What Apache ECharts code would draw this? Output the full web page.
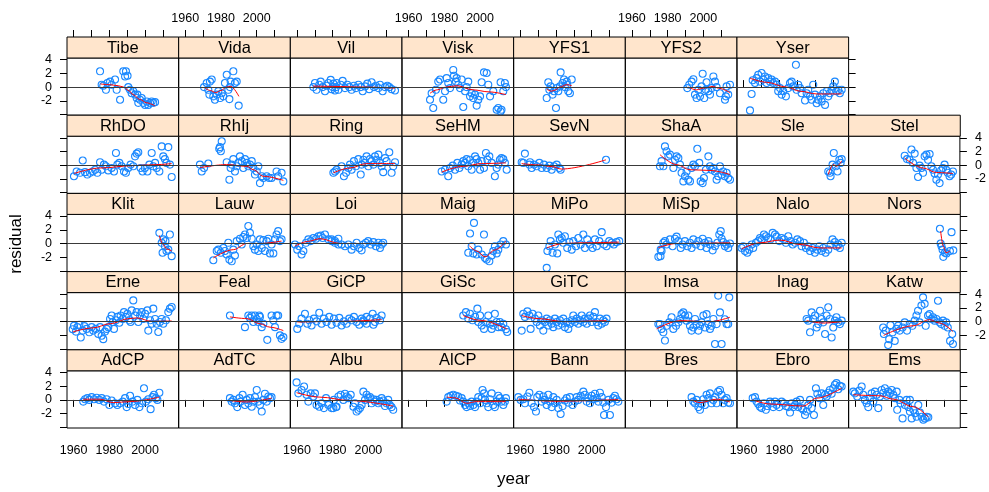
<!DOCTYPE html>
<html><head><meta charset="utf-8">
<script src="https://cdn.jsdelivr.net/npm/echarts@6/dist/echarts.min.js"></script>
<style>html,body{margin:0;padding:0;background:#fff}#c{width:989px;height:492px}</style>
</head><body><div id="c"></div>
<script>
// panel order: lattice order (bottom-left to top-right)
const sites = ['AdCP','AdTC','Albu','AlCP','Bann','Bres','Ebro','Ems','Erne','Feal','GiCP','GiSc','GiTC','Imsa','Inag','Katw','Klit','Lauw','Loi','Maig','MiPo','MiSp','Nalo','Nors','RhDO','RhIj','Ring','SeHM','SevN','ShaA','Sle','Stel','Tibe','Vida','Vil','Visk','YFS1','YFS2','Yser'];
const xTicks = [1960,1970,1980,1990,2000,2010];
const xLabels = [1960,1980,2000];
const yTicks = [-4,-2,0,2,4];
const yLabels = [-2,0,2,4];
const xRange = [1956.3, 2018.8];
const yRange = [-4.1, 4.24];
const xTitle = 'year';
const yTitle = 'residual';

const Tibe_pts = [[1974.8,2.3],[1975.7,0.35],[1976.6,0.2],[1978.1,-0.4],[1978.9,0.6],[1980.4,0.8],[1981.3,0.35],[1983.2,1.1],[1984.1,-0.4],[1986,-1.85],[1987.8,2.3],[1988.8,1.55],[1989.3,2.3],[1990.2,1.65],[1990.6,0],[1991.6,-0.4],[1992.5,-0.9],[1993.4,-0.6],[1994.4,-1.1],[1995.3,-1.6],[1995.7,-1.1],[1996.2,-2.3],[1997.2,-1.85],[1998.1,-1.6],[1999,-2.3],[2000,-2.6],[2000.9,-2.1],[2001.8,-2.6],[2002.8,-2.3],[2003.7,-2.1],[2004.6,-2.3],[2005.6,-2.2]];
const Tibe_fit = [[1975,0.45],[1980,0.35],[1985,0.2],[1988,0],[1990.5,-0.45],[1993.4,-1.1],[1997,-1.8],[2001,-2.3],[2005.6,-2.75]];
const Vida_pts = [[1970.5,0],[1972,0.6],[1972.9,-0.4],[1973.5,-1.1],[1973.8,0.8],[1974.8,1.1],[1975.7,-1.35],[1976.6,-1.85],[1977.6,-1.1],[1978.5,-0.6],[1979.5,-1.6],[1980.4,-0.9],[1981.3,-1.35],[1982.2,0.6],[1983.2,1.8],[1984.1,-0.4],[1984.7,-1.75],[1985,0],[1985.4,0.8],[1986.9,2.3],[1987.8,0.6],[1988.8,0.8],[1989.9,-2.7]];
const Vida_fit = [[1970.5,0],[1974,-0.5],[1977,-0.8],[1980,-0.5],[1983,0],[1985.5,0.1],[1990,-1.35]];
const Vil_pts = [[1969.2,0],[1970.1,0.6],[1971,-0.4],[1972.5,0.35],[1973.3,0.8],[1974.4,0],[1975.7,-0.6],[1976.6,0.2],[1977.6,0.6],[1978.9,1.05],[1979.4,-0.3],[1980,0],[1980.4,0.5],[1981.3,-0.5],[1981.9,0],[1982.2,0.6],[1983.2,-0.4],[1984.5,0.35],[1985.6,0.9],[1986.9,-0.15],[1988.2,0.35],[1989.3,0],[1990.6,-0.4],[1991.9,0.2],[1993,-0.15],[1994.4,0.35],[1995.7,0],[1996.8,-0.6],[1998.1,0.1],[1999.4,0.5],[2000.5,-0.3],[2001.8,0.7],[2003.1,0],[2004.2,0.2],[2005.6,-0.15],[2006.5,0.35],[2008,-0.6],[2009.3,0],[2010.6,0.2],[2011.7,0],[2013,-0.3],[2014.9,-0.5]];
const Vil_fit = [[1969,0.15],[1980,0.1],[1997,0],[2014.9,-0.15]];
const Visk_pts = [[1972,-1.85],[1972.9,-0.9],[1973.8,-3.05],[1975.3,-0.4],[1976.6,0.8],[1977.6,1.1],[1979.4,-1.85],[1980.4,-0.6],[1981.3,1.3],[1982.2,0.6],[1983.2,-0.15],[1985,2.5],[1985.4,1.65],[1986.5,0.8],[1986.9,1.3],[1987.8,0.35],[1988.8,-0.15],[1989.7,1.1],[1990.6,-2.9],[1991.6,-0.6],[1992.5,0],[1993.4,0.8],[1994.4,-1.35],[1995.3,-0.9],[1996.2,-1.6],[1997.2,-1.1],[1998.1,-2.7],[1999,-1.85],[2000,-1.35],[2000.9,0.7],[2002.2,2.15],[2003.7,2.05],[2004.6,0.35],[2005.6,-1.35],[2007.4,-0.6],[2009.3,-3.3],[2010.2,-3.05],[2011.5,-3.55],[2011.5,0.7],[2012,-3.3],[2013,-0.6],[2013.9,0.6],[2014.5,0]];
const Visk_fit = [[1972,-0.9],[1976,-0.4],[1981,0],[1987,0.2],[1996,-0.4],[2005,-0.7],[2014.5,-1.1]];
const YFS1_pts = [[1974.8,-1.6],[1975.7,0.7],[1976.3,-0.4],[1977,0.1],[1978.1,-1.1],[1978.9,-0.6],[1980,-3.05],[1980.4,-0.15],[1981.3,-0.6],[1982.2,0.1],[1982.6,2.15],[1983.7,0.6],[1984.5,1.1],[1985,0],[1986,0.8],[1986.3,0.35],[1986.9,-0.6],[1987.8,-0.9],[1988.8,1.1]];
const YFS1_fit = [[1974.8,-0.3],[1977.5,-0.6],[1980,-0.4],[1982,0],[1986,0.35],[1988.8,0.2]];
const YFS2_pts = [[1991,-0.15],[1992.1,0.35],[1993.4,0.8],[1994.4,1.15],[1995.3,-1.1],[1996.2,-1.6],[1997.2,-0.4],[1998.1,-1.35],[1999,0.1],[1999.6,1.95],[2000.5,-1.6],[2001.4,-0.4],[2001.8,0.7],[2002.8,-0.6],[2003.7,-1.1],[2004.6,-0.15],[2005.6,1.55],[2006.5,0.8],[2007.4,0],[2009.3,-0.9],[2012.1,-1.85],[2012.6,-1.35],[2013,0.1],[2013.9,-1.1],[2014.9,0.35]];
const YFS2_fit = [[1991.5,0],[1996.2,-0.4],[2000,-0.15],[2005.6,0.1],[2008.3,-0.15],[2014.9,-0.8]];
const Yser_pts = [[1963.6,-3.4],[1964.5,-1],[1965.1,1],[1966.4,0.6],[1967.3,1.3],[1968.2,1.8],[1969.2,0.8],[1970.1,2.05],[1971,1.1],[1972,1.55],[1972.9,0.6],[1973.8,1.3],[1974.8,0.8],[1975.7,1.1],[1976.6,0.6],[1977.6,0.8],[1978.5,0.35],[1979.4,-0.6],[1980.4,-0.15],[1981.3,-1.1],[1982.2,-0.6],[1983.7,-1.35],[1985,-0.15],[1986,0.6],[1986.9,0.8],[1987.8,0.1],[1989.3,3.25],[1989.7,-0.4],[1990.6,0.35],[1991.6,-0.15],[1992.5,-0.9],[1994.4,-1.95],[1995.3,-0.9],[1996.2,-0.4],[1997.2,-1.35],[1998.1,-1.85],[1999,0.35],[2000,-1.1],[2000.9,-2.35],[2001.8,-1.85],[2002.8,-1.35],[2003.7,-2.1],[2004.6,-0.9],[2005.6,-2.6],[2006.5,-0.6],[2007.4,-1.35],[2008.3,-0.9],[2009.3,-0.4],[2010.2,0.1],[2011.1,0.8],[2012,-0.6],[2013,-0.4],[2013.9,-0.9],[2014.9,-0.4]];
const Yser_fit = [[1963.6,1.3],[1972.9,0.7],[1984,0],[1991.6,-0.6],[2000.9,-1],[2014.9,-1]];

const RhDO_pts = [[1960.2,-1.6],[1961.7,-0.9],[1963.6,-1.1],[1965.1,0.7],[1966.4,-1],[1967.7,-1.35],[1969.2,-1.1],[1970.7,-0.9],[1972,-0.65],[1973.3,-1.1],[1974.8,0.45],[1975.7,-0.65],[1977,0.1],[1978.1,-0.15],[1979.4,-0.75],[1981.3,-0.4],[1982.6,-0.9],[1983.7,1.8],[1984.5,0.1],[1985.6,0.35],[1986.9,-0.15],[1988.2,-0.9],[1989.3,-1.1],[1990.6,-0.4],[1991.9,0.1],[1993.4,-0.15],[1994.4,1.3],[1995.3,1.7],[1996.2,1.9],[1997.5,-0.4],[1998.6,-0.9],[1999.9,-0.4],[2001.3,-0.9],[2002.4,0.1],[2003.7,1.8],[2004.6,-0.15],[2005.6,0.35],[2006.5,-0.4],[2008,-0.9],[2009.3,2.75],[2010.2,1.3],[2011.1,0.9],[2012,0.35],[2013,2.65],[2013.9,0.1],[2014.9,-1.7]];
const RhDO_fit = [[1960.2,-1.2],[1974.8,-0.4],[1993.4,-0.05],[2006.5,0.1],[2014.9,0.25]];
const RhIj_pts = [[1968.2,0.1],[1969.2,-0.9],[1970.5,-0.4],[1972.9,0.25],[1979,2.4],[1979.4,2.65],[1979.9,2.05],[1980.4,3.5],[1983.2,0.45],[1984.7,-2.1],[1985.4,-0.4],[1986,0.1],[1986.9,0.9],[1987.8,-0.9],[1988.8,-0.15],[1989.7,0.35],[1990.6,1.3],[1991.6,0.6],[1992.5,-0.4],[1993.4,0.9],[1994.4,0.35],[1995.3,-0.15],[1996.2,0.1],[1997.2,0.6],[1998.1,-0.4],[1999,-1.35],[2000,-0.9],[2000.9,-0.15],[2001.8,-2.6],[2002.8,-1.6],[2003.7,-1.85],[2005.6,-1.6],[2007,-1.85],[2008.3,-1.85],[2011.1,-0.9],[2012,-1.6],[2013.9,-1.1],[2014.9,-2.35]];
const RhIj_fit = [[1968.2,-0.35],[1983.2,0.1],[1994.4,-0.15],[1998.1,-0.65],[2003.7,-1.6],[2014.9,-2.2]];
const Ring_pts = [[1980.4,-1.1],[1981.3,-0.9],[1982.2,-0.65],[1985,-0.15],[1986.3,-1.6],[1987.5,-1.1],[1988.8,-0.4],[1989.7,0.1],[1990.6,-0.65],[1991.9,0.6],[1993,-0.15],[1994.4,0.9],[1995.7,-1.35],[1996.2,0.1],[1997.2,0.8],[1998.1,0.35],[1999,1.3],[2000,-0.15],[2000.9,0.9],[2001.8,0.6],[2002.8,0.1],[2003.7,1.3],[2004.6,0.8],[2005.6,1.55],[2006.5,0.35],[2007.4,-0.15],[2008.3,-1],[2009.3,1.05],[2010.2,0.6],[2011.7,1.9],[2013,-1.1],[2013.9,-0.15],[2014.9,0.45]];
const Ring_fit = [[1980.4,-1.1],[1989.7,-0.4],[1999,0.25],[2014.9,0.25]];
const SeHM_pts = [[1978.5,-0.9],[1980.4,-0.65],[1982.2,-1.6],[1983.2,-0.4],[1984.7,-0.05],[1986,-0.65],[1987.3,0.35],[1988.4,-0.4],[1989.7,0.1],[1990.6,0.6],[1991.6,0.35],[1992.5,0.9],[1993.4,-0.15],[1994.4,0.8],[1995.3,-0.65],[1996.2,0.35],[1997.2,1.3],[1998.1,0.9],[1999,0.35],[2000,-0.65],[2000.9,0.6],[2002.2,-0.4],[2003.3,1.8],[2004.1,0.8],[2005.2,1.3],[2006.5,0.35],[2008.3,-1.6],[2009.3,-0.4],[2010.2,0.1],[2011.1,0.8],[2012,1.05],[2013,0.9],[2013.9,0.35],[2014.9,-0.65]];
const SeHM_fit = [[1978.5,-1],[1990.6,-0.15],[2000.9,0.25],[2014.5,0.35]];
const SevN_pts = [[1960.8,0.45],[1961.7,0.35],[1962.6,1.7],[1965.1,0.1],[1965.5,0.45],[1966.4,-0.4],[1967.7,0.1],[1969.2,-0.15],[1970.7,0.35],[1972,-0.4],[1973.3,0.1],[1974.8,-0.4],[1976.3,-0.05],[1977.6,-0.65],[1978.9,-0.15],[1980.4,0.1],[1981.9,-0.4],[1982.6,-0.65],[2008,0.8]];
const SevN_fit = [[1960.8,0.25],[1970,0.05],[1978,-0.2],[1983,-0.55],[2008,0.8]];
const ShaA_pts = [[1975.7,-0.15],[1976.6,0.6],[1977.6,-0.15],[1978.5,2.75],[1979.4,2.05],[1980.4,1.3],[1981.3,1.55],[1983.2,-0.4],[1984.1,0.8],[1985,1.3],[1986,1.05],[1986.9,0.1],[1987.8,-1.1],[1988.8,-2.35],[1989.7,-1.6],[1990.6,-0.9],[1991.6,-2.1],[1992.5,-2.35],[1993.4,-0.4],[1994.4,0.1],[1995.3,-0.15],[1996.6,2.4],[1997.7,0.35],[1998.5,-2.35],[1999.6,-2.6],[2000.3,-1.85],[2001.4,-0.65],[2002.8,1.3],[2003.7,-0.15],[2004.6,-0.65],[2005.6,-0.4],[2006.5,-0.9],[2007.4,-2.1],[2008.3,-1.6],[2009.3,-0.15],[2010.2,-1.35],[2011.1,-0.9],[2012,-1.6],[2013,-1.1],[2013.9,-1.85],[2014.9,-2.1]];
const ShaA_fit = [[1975.7,1.55],[1985,0.1],[1992.5,-0.65],[2003.7,-0.75],[2014.9,-1.35]];
const Sle_pts = [[2007.4,-0.9],[2008.3,-1.1],[2008.7,-1.6],[2009.8,0.1],[2010.5,1.8],[2011.7,-0.15],[2012.6,-0.9],[2013.6,0.8],[2014.3,0.35],[2014.9,0.9]];
const Sle_fit = [[2007.4,-1.35],[2010.2,0.1],[2012,-0.15],[2014.9,0.6]];
const Stel_pts = [[1987.8,1.4],[1989.1,0.9],[1990.6,0.8],[1991.6,2.3],[1992.5,0.35],[1993.4,1.7],[1994.4,-0.4],[1995.3,-1.7],[1996.2,-0.05],[1997.2,-0.4],[1998.1,-1.1],[1999,1.3],[2000,1.55],[2000.9,0.8],[2001.8,1.65],[2002.8,-0.15],[2003.7,-0.65],[2004.6,-1.2],[2005.6,-2.1],[2006.5,-1.35],[2007.4,-2.6],[2008.3,-0.75],[2009.3,-0.4],[2010.2,0.1],[2011.1,-0.65],[2012,-1.1],[2013,-1.6],[2013.9,-1.35],[2014.9,-0.9]];
const Stel_fit = [[1987.8,1.05],[1998.1,-0.4],[2005.6,-1.05],[2014.9,-1.2]];

const Klit_pts = [[2008,1.55],[2009.3,0.1],[2009.8,-1.35],[2010.2,0.6],[2011.1,-0.4],[2011.4,0.35],[2012,-1.1],[2013,-0.9],[2013.9,1.3],[2014.9,-1.85]];
const Klit_fit = [[2008,1.15],[2010.2,-0.15],[2012,-0.8],[2014.9,-1.1]];
const Lauw_pts = [[1975.7,-2.45],[1977.6,-1.1],[1978.5,-0.9],[1979.9,-1.35],[1981.3,-0.65],[1982.2,-1.1],[1983.2,-1.6],[1984.1,0.1],[1984.7,-2.35],[1986,-2.6],[1986.9,-0.9],[1987.8,-1.75],[1988.8,0.35],[1990.6,0.7],[1991.6,-0.15],[1992.5,0.95],[1993.4,1.3],[1994.4,0.8],[1995.3,2.55],[1996.2,1.55],[1997.2,0.7],[1998.1,-0.4],[1999,-0.9],[2000,-0.15],[2000.9,-1.1],[2001.8,0.6],[2002.8,-0.65],[2003.7,0.5],[2004.6,-1.1],[2005.6,0.35],[2006.5,0.7],[2007.4,-1.45],[2008.3,-0.15],[2009.3,-1.45],[2010.2,0.6],[2011.1,1.3],[2012,1.8],[2013,0.35],[2013.9,0.6]];
const Lauw_fit = [[1975.7,-2.1],[1986.9,-0.9],[1994.4,0],[2001.8,0],[2013.9,0.35]];
const Loi_pts = [[1958.9,-0.15],[1960.2,-0.9],[1961.3,-0.4],[1962.6,-1.6],[1963.6,-1.1],[1965.1,0.1],[1966.4,0.6],[1967.7,0.35],[1969.2,0.8],[1970.7,0.7],[1972,1.05],[1973.3,1.15],[1974.4,0.8],[1975.7,1.3],[1977.6,0.6],[1979.4,0.35],[1979.4,0.6],[1981.3,0.1],[1981.3,0.35],[1983.2,-0.15],[1983.2,0.7],[1985,-0.15],[1986.9,-0.4],[1988.8,-0.15],[1990.6,-0.9],[1991.9,-0.4],[1993.4,0.1],[1994.9,-0.65],[1996.2,-1],[1997.2,-0.15],[1998.6,0.1],[1999.9,0.35],[2001.3,-0.15],[2002.8,0.2],[2004.2,-0.4],[2005.6,0.1],[2006.5,-0.65],[2007.4,-0.15],[2008.3,0.1]];
const Loi_fit = [[1958.9,-0.4],[1966,0.3],[1973,0.7],[1984,0],[2008.3,0]];
const Maig_pts = [[1993.4,-1.35],[1994.4,1.45],[1995.3,-0.4],[1996.2,-1.45],[1996.6,3],[1998.1,-1.6],[1999,-0.9],[2000.9,-1.6],[2002.2,1.3],[2002.8,-2.1],[2003.7,-2.35],[2005.2,-2.6],[2006.5,-1.75],[2007.4,-1.1],[2008.3,-0.4],[2009.3,-1.45],[2010.2,-0.9],[2011.5,-0.15],[2013,0.35],[2014.5,-0.15]];
const Maig_fit = [[1994,-0.3],[1998.1,-1.1],[2002.8,-1.95],[2008.3,-0.95],[2014.5,0.35]];
const MiPo_pts = [[1974.8,-3.55],[1975.2,-1.1],[1976.3,-0.4],[1977,0.35],[1978.1,-1.35],[1979.4,-0.15],[1980.7,-1.45],[1981.3,1.3],[1982.2,0.6],[1983.2,0.8],[1984.1,0.1],[1985,1.05],[1986.3,-0.65],[1987.5,0.2],[1988.8,-0.9],[1989.7,0.35],[1991.2,-0.4],[1992.5,0.8],[1993.8,-0.15],[1995.3,1.3],[1996.2,-0.65],[1997.5,0.6],[1999,-0.15],[2000.5,-0.65],[2001.8,0.6],[2002.8,-0.4],[2004.2,0.35],[2005.6,1.65],[2006.9,-0.15],[2008.3,-0.4],[2009.8,0.35],[2011.1,0.1],[2012.4,-0.15],[2013.9,0.2],[2015.4,0.35]];
const MiPo_fit = [[1974.8,-0.65],[1984.1,0],[1995.3,0.1],[2015.4,0.2]];
const MiSp_pts = [[1974.8,-1.95],[1976,-1.85],[1976.1,-0.9],[1976.6,-1.1],[1977.6,0.1],[1978.5,0.35],[1979.4,-0.15],[1981.3,0.6],[1982.8,-0.4],[1984.1,0.7],[1985,1],[1986,0.35],[1987.3,-0.65],[1988.4,-0.15],[1989.7,0.35],[1991,-0.4],[1992.5,0.1],[1993.4,-0.65],[1994.4,0.6],[1995.8,-0.15],[1997.2,0.35],[1998.5,-0.4],[1999.6,0.7],[2000.9,0.1],[2001.8,-0.65],[2002.8,0.35],[2003.7,-0.15],[2005.2,-1],[2006.5,-0.4],[2007.8,0.1],[2008.9,1.3],[2009.7,1.8],[2010.2,0.7],[2011.1,0.2],[2012.1,-0.4],[2013,-0.15],[2013.9,-0.65],[2014.9,0]];
const MiSp_fit = [[1974.8,-0.6],[1985,0],[2014.9,0.1]];
const Nalo_pts = [[1958.9,-0.65],[1959.8,-0.4],[1960.8,-1.1],[1962.1,-1.35],[1963.2,-0.9],[1964.5,-0.15],[1965.4,-0.65],[1966.9,0.1],[1968.2,0.35],[1969.2,0.8],[1970.1,0.6],[1971.4,1.3],[1972.5,1.05],[1973.8,0.8],[1975.1,0.6],[1976.3,1.55],[1977.6,1.3],[1978.5,1],[1980,0.35],[1981.3,0.8],[1982.6,0.6],[1983.7,0.1],[1985,1.05],[1986.3,0.35],[1987.5,-0.15],[1988.8,0.1],[1990.1,0.6],[1991.6,0.35],[1992.5,-0.4],[1993.8,0.1],[1994.9,-0.65],[1996.2,-0.4],[1997.2,-1.1],[1998.6,-0.65],[1999.9,-1.35],[2001.3,-0.9],[2002.4,-0.4],[2003.7,-1.1],[2004.6,-0.65],[2005.9,-1.35],[2007.4,-0.9],[2008.7,-0.15],[2009.8,0.6],[2011.1,0.2],[2012,-0.4],[2013,-0.15],[2013.9,-0.65],[2014.9,0.1]];
const Nalo_fit = [[1958.9,-0.8],[1969.2,0.1],[1980.4,0.5],[1991.6,-0.15],[2002.8,-0.65],[2014.9,-0.65]];
const Nors_pts = [[2007.4,2.15],[2007.8,0],[2008.3,-0.4],[2008.9,-0.9],[2009.3,-1.95],[2010.2,-1.35],[2011.1,-1.45],[2013,-1.1],[2013.9,1.65],[2014.9,-1]];
const Nors_fit = [[2007.8,1.8],[2009.3,-0.4],[2010.8,-1.35],[2013,-1.1]];

const Erne_pts = [[1959.5,-1.1],[1960.2,-0.6],[1961.3,-1.45],[1962.1,-0.8],[1963.2,-0.45],[1964,-2.3],[1965.1,-1.3],[1966,-0.65],[1967.3,-1.05],[1968.8,-1.55],[1970.1,-0.8],[1971,-1.3],[1972.5,-1.05],[1973.8,-1.8],[1974.8,-0.8],[1975.7,-2.05],[1976.6,-2.55],[1977.6,-1.45],[1978.5,-1.05],[1979.4,-0.8],[1980.4,0.4],[1981.3,0.9],[1981.9,-0.05],[1982.6,-1.05],[1983.7,0.2],[1984.5,0.7],[1985.6,-0.15],[1986.3,0.9],[1987.5,0.4],[1988.2,1.4],[1989.3,0.7],[1990.1,1.15],[1991.2,0.2],[1991.9,-0.05],[1992.5,1.65],[1993.4,3.1],[1994.4,0.9],[1995.3,1.4],[1996.2,-0.05],[1997.2,0.9],[1998.1,1.4],[1999,0.4],[2000,1.15],[2001.3,1.65],[2001.8,-1.3],[2002.8,0.2],[2003.7,-0.3],[2004.6,1.9],[2005.6,0.4],[2006.5,-0.3],[2007.4,-1.5],[2008.3,-0.05],[2009.3,0.4],[2010.2,-0.3],[2011.7,0.2],[2013,1.4],[2013.9,1.9],[2014.9,2.15]];
const Erne_fit = [[1959.5,-1.5],[1971,-0.9],[1980.4,-0.3],[1991,0.45],[1995.3,0.55],[2003.7,0.05],[2014.9,0.1]];
const Feal_pts = [[1985,0.9],[1993.4,-0.8],[1995.3,0.9],[1996.2,0.55],[1997.2,0.9],[1998.1,-0.05],[1999,0.9],[2000,0.4],[2000.9,-0.05],[2001.4,0.9],[2001.8,0.7],[2002.8,-0.8],[2003.7,-0.3],[2005.9,-2.65],[2008.3,0.9],[2009.3,0.2],[2010.2,-0.8],[2011.1,0.9],[2012,0.9],[2013,-2],[2013.9,-2.5],[2014.9,-2.25]];
const Feal_fit = [[1985,0.7],[1994.4,0.45],[2001.8,-0.3],[2007.4,-0.8],[2014.9,-1.3]];
const GiCP_pts = [[1960.2,-1.05],[1961.3,-0.3],[1962.6,0.45],[1964.5,1.15],[1965.8,-0.3],[1966.9,0.2],[1968.2,-0.55],[1969.5,0.45],[1971,0.05],[1972.5,1.3],[1973.8,-0.3],[1975.1,0.45],[1976.6,-0.05],[1978.1,0.7],[1979.4,-0.45],[1980.7,0.45],[1982.2,-0.15],[1983.7,0.55],[1985,-0.55],[1986.3,0.05],[1987.8,-0.3],[1989.3,0.45],[1990.6,0.2],[1991.9,0.7],[1993.4,-0.05],[1994.9,-0.45],[1996.2,0.45],[1997.2,0.2],[1997.5,0.05],[1999,0.7],[1999,-0.3],[2000.9,0.45],[2002.4,1.15],[2002.8,-0.45],[2003.7,-0.05],[2004.6,0.55],[2006.5,0.2],[2007.4,0.9]];
const GiCP_fit = [[1960.2,-0.05],[1985,0.05],[2007.4,0.3]];
const GiSc_pts = [[1990.6,0.9],[1992.1,1.4],[1993.4,0.45],[1994.4,1.15],[1995.8,0.2],[1997.2,0.7],[1998.5,1.9],[1999,-0.05],[2000,0.9],[2000.9,-0.55],[2002.2,-1.05],[2003.3,-0.05],[2004.6,0.9],[2005.6,-0.3],[2006.5,-1.05],[2007.4,-0.55],[2008.3,1.15],[2009.3,-0.05],[2010.2,-0.8],[2011.1,-0.05],[2012,-0.8],[2013,-0.3],[2014.5,-1.1],[2015.2,-1.5]];
const GiSc_fit = [[1990.6,0.9],[2000,0.2],[2015.2,-1.1]];
const GiTC_pts = [[1960.8,-1.3],[1961.7,1.15],[1962.6,0.7],[1964,1.5],[1965.1,0.9],[1965.8,-1.05],[1966.9,1.15],[1968.2,0.45],[1969.2,-0.05],[1970.1,0.9],[1971,-0.55],[1972,0.2],[1972.9,-1.3],[1973.8,-0.05],[1974.8,0.45],[1975.7,-0.55],[1976.6,0.2],[1977.6,-0.3],[1978.5,-0.8],[1979.4,0.45],[1980.4,-0.05],[1981.3,-0.55],[1982.2,0.2],[1983.2,-0.3],[1984.1,0.45],[1985,-0.8],[1986,-0.05],[1986.9,-1.05],[1987.8,-0.3],[1988.8,0.2],[1989.7,0.9],[1990.6,-0.05],[1991.6,0.45],[1992.5,-0.3],[1993.4,0.2],[1994.4,0.9],[1995.3,-0.05],[1996.2,0.45],[1997.2,-0.3],[1998.1,0.45],[1999,0.9],[2000,-0.05],[2000.9,0.7],[2001.8,1.4],[2002.8,-0.05],[2003.7,-0.55],[2004.6,0.45],[2005.6,-0.3],[2006.5,0.2],[2007.4,-0.05],[2008.3,0.45]];
const GiTC_fit = [[1960.8,0.9],[1970,0.45],[1985,0],[2000,0.1],[2008.3,0.15]];
const Imsa_pts = [[1974.8,-0.35],[1975.7,-0.35],[1976.6,-1.05],[1977.6,-1.55],[1978.5,-2.75],[1979.4,-0.6],[1980.9,-0.1],[1982.2,0.65],[1983.2,-1.05],[1984.7,-0.6],[1986,-0.1],[1986.9,0.4],[1987.8,1.1],[1988.8,1.35],[1989.7,0.9],[1990.6,0.15],[1991.6,0.9],[1992.5,-0.6],[1993.4,-1.3],[1994.4,-0.85],[1995.3,0.4],[1996.2,-0.35],[1997.2,-1.3],[1998.1,-0.6],[1999,-0.1],[2000,0.9],[2000.9,-0.85],[2001.8,1.1],[2002.8,-0.35],[2003.7,-1.05],[2004.6,-0.6],[2005.6,0.4],[2006.5,-3.25],[2007.4,-0.35],[2008.3,3.8],[2009.3,1.35],[2010.2,-3.25],[2012,0.35],[2013,-0.35],[2013.9,-0.35],[2014.5,3.55]];
const Imsa_fit = [[1973.8,-1.05],[1986.9,0.15],[2003.7,0],[2014.9,0.65]];
const Inag_pts = [[1995.3,0.4],[1996.2,0.15],[1997.2,-1.55],[1998.1,1.35],[1999,0.4],[2000,0.9],[2000.9,-0.85],[2001.8,-0.35],[2002.8,1.6],[2003.7,0.4],[2004.6,-0.1],[2005.6,-1.8],[2006.5,0.9],[2007.4,2.1],[2008.3,0.4],[2009.3,-2.3],[2010.2,-0.85],[2011.1,0.15],[2012,0.65],[2013,-0.1],[2013.9,-0.35],[2014.9,0.15]];
const Inag_fit = [[1995.3,0.15],[2004.6,-0.2],[2014.9,0]];
const Katw_pts = [[1975.7,-0.85],[1976.1,-1.8],[1977.2,-1.3],[1978.5,-3.4],[1979.1,-2.55],[1979.8,-0.5],[1981,-1.55],[1982.2,-2.8],[1983.2,-1.05],[1984.1,-0.6],[1985,-1.3],[1986.6,-0.85],[1987.8,-0.1],[1989.1,-1.3],[1990.6,-0.35],[1992.1,-0.6],[1993.4,0.15],[1994.4,0.9],[1995.3,1.6],[1996.2,-0.1],[1997.2,2.35],[1998.1,3.55],[1999,2.6],[1999.6,-0.6],[2000.9,0.9],[2001.8,1.1],[2002.8,0.4],[2003.7,0.65],[2004.6,0.15],[2005.6,0.4],[2006.5,3.05],[2007.4,-0.1],[2008.3,-0.35],[2009.3,0.15],[2010.2,-0.6],[2011.1,-0.1],[2012,-0.85],[2013.3,-2.8],[2014.5,-1.8],[2014.9,-3.25]];
const Katw_fit = [[1976,-2],[1992.5,-0.6],[2001.8,0.3],[2007.4,-0.2],[2014.9,-1.45]];

const AdCP_pts = [[1965.4,-0.25],[1966.4,0.1],[1967.7,0.25],[1968.8,0],[1970.1,0.4],[1971.4,0.1],[1972.9,0.3],[1974.4,0],[1975.7,0.25],[1977,-0.25],[1978.5,0.1],[1980,-0.75],[1981.3,-0.1],[1983.2,-0.5],[1984.5,-0.75],[1986,-0.5],[1987.5,-0.25],[1988.8,0.25],[1989.7,-1.05],[1990.6,-0.6],[1991.6,0.6],[1993,-0.25],[1994.4,-0.75],[1995.7,0],[1996.8,-1.05],[1998.1,-0.5],[1999.4,1.7],[2000.5,-0.25],[2001.8,0.1],[2003.1,-1.35],[2004.2,0.4],[2005,0.75],[2006.1,0.25],[2006.9,0],[2008,1.05]];
const AdCP_fit = [[1965.4,0.1],[1974.8,0.1],[1982.2,-0.4],[1991.6,-0.25],[2008,0.4]];
const AdTC_pts = [[1985,0.25],[1986,-0.25],[1986.9,0],[1987.8,-0.5],[1989.1,-1.05],[1990.3,0.25],[1991,-0.25],[1992.1,0.75],[1993.4,-0.75],[1994.4,0],[1995.3,-0.5],[1996.2,0.25],[1997.2,-1],[1998.1,-0.25],[1999,0.4],[2000,1.45],[2000.9,-0.25],[2001.8,-0.75],[2002.8,-1.7],[2003.7,0],[2004.6,0.9],[2005.6,-0.25],[2006.5,0.5],[2007.4,0.25],[2008.3,0.4]];
const AdTC_fit = [[1985,-0.1],[1994.4,-0.3],[2008.3,0.25]];
const Albu_pts = [[1959.8,2.55],[1960.8,0.95],[1962.6,1.45],[1964,1.95],[1965.4,0.75],[1966.4,-0.25],[1967.7,0.95],[1969.2,0.5],[1970.1,0.95],[1971,-0.75],[1972.5,-1],[1973.8,-0.5],[1975.1,-1.2],[1976.3,0.25],[1977.6,-0.75],[1979.4,-1.2],[1980.4,-1.2],[1980.7,0],[1981.9,-1.05],[1982.2,-1],[1983.2,0.5],[1984.5,0.75],[1986,0],[1986.9,0.9],[1987.8,0.5],[1988.8,0.25],[1990.1,0.75],[1991.6,-1],[1992.5,-0.5],[1993.4,-1.7],[1994.4,-1.45],[1995.3,-1.2],[1996.2,-0.75],[1997.2,1.2],[1998.1,0],[1999,0.75],[2000,0.25],[2000.9,0.4],[2001.8,-0.5],[2002.8,0.1],[2003.7,-0.25],[2004.6,0],[2005.6,-0.5],[2006.5,-0.25],[2007.4,0.25],[2008.3,-0.1],[2009.3,-0.9],[2010.2,-0.5],[2011.1,0],[2012,-0.75],[2013,-1.05],[2013.9,-1.45]];
const Albu_fit = [[1959.8,1.05],[1972.9,0.4],[1989.7,-0.1],[2013.9,-0.9]];
const AlCP_pts = [[1981.3,-0.25],[1982.2,0.4],[1983.5,0.6],[1985,0.75],[1986.5,0.6],[1987.8,0.5],[1988.8,-0.1],[1989.7,0.25],[1990.6,-0.25],[1991.6,-0.75],[1992.5,-1.05],[1993.4,-0.5],[1994.4,-0.9],[1995.3,-0.25],[1996.2,-0.75],[1997.2,-1.05],[1998.1,-0.25],[1999,0.4],[2000,-0.5],[2000.9,0.25],[2001.4,1.45],[2002.2,0.95],[2002.8,0],[2003.7,-0.5],[2004.6,-1.05],[2005.6,0.1],[2006.5,0.95],[2007.4,-0.75],[2008.3,-1.05],[2009.3,-0.25],[2010.2,0.6],[2011.1,0.25],[2012,-0.25],[2013,-0.75],[2013.9,-0.25],[2014.5,0.25]];
const AlCP_fit = [[1981.3,0.4],[1986,0.3],[1992.5,-0.5],[1998.1,-0.25],[2014.5,-0.25]];
const Bann_pts = [[1958.9,0.4],[1960.2,0],[1961.7,0.1],[1962.6,-0.5],[1964,0.5],[1965.1,1.05],[1966.4,-0.5],[1967.7,-1.05],[1968.8,-1.7],[1969.5,0.4],[1970.7,0.75],[1972,-0.25],[1972.9,0.5],[1973.8,0],[1974.8,-0.75],[1975.7,0.75],[1976.6,-0.25],[1977.6,-1.05],[1978.5,0.4],[1979.4,-0.5],[1980.4,0],[1981.3,-1.2],[1982.6,-2.05],[1983.7,-0.9],[1985,-0.1],[1986,0.25],[1986.9,-0.4],[1987.8,0.4],[1989.3,-0.75],[1990.6,-0.25],[1991.6,0.4],[1992.5,0],[1993.8,0.6],[1995.3,1.2],[1996.2,0.75],[1997.2,-0.25],[1998.1,0.25],[1999,-0.5],[2000,0.6],[2000.9,0.1],[2001.8,0.9],[2002.8,0.25],[2003.7,-0.25],[2004.6,1.05],[2005.6,0.4],[2006.5,-0.4],[2006.9,-2.2],[2008,-1.05],[2009.3,0],[2010.2,-2.2],[2011.1,-0.4],[2012,0.25],[2013,0.6],[2013.9,0.1],[2014.9,-0.25]];
const Bann_fit = [[1958.9,0.1],[1980,-0.2],[2014.9,0.05]];
const Bres_pts = [[1993.4,0.4],[1994.4,-0.25],[1995.3,-0.5],[1996.2,0],[1997.2,-1.05],[1998.1,-1.45],[1999,-0.6],[2000,0.1],[2000.9,-0.75],[2001.8,0.75],[2002.8,0.25],[2003.7,0.95],[2004.6,-0.5],[2005.6,0],[2006.5,0.4],[2007.4,-0.5],[2008.3,1.2],[2009.3,1.45],[2010.2,0.75],[2011.1,-0.5],[2012,0],[2013,0.25],[2013.9,-0.4],[2014.9,-0.5]];
const Bres_fit = [[1993.4,0],[1998.1,-0.4],[2007.4,0.1],[2014.9,-0.3]];
const Ebro_pts = [[1965.1,0.25],[1966.4,0.4],[1967.3,-0.25],[1968.2,-0.6],[1969.2,-1],[1970.1,-1.2],[1971.4,-0.5],[1972.5,-1.45],[1973.3,-0.9],[1974.8,-0.25],[1975.7,-0.5],[1976.6,-1.05],[1977.6,-0.25],[1978.5,-0.75],[1980,-1.05],[1981.3,-0.25],[1982.6,-0.5],[1983.7,-0.9],[1985,-1.05],[1986,-1.85],[1986.9,-0.5],[1987.8,-1.05],[1988.8,-0.75],[1989.7,-0.25],[1990.6,-1.05],[1991.6,0],[1992.5,-1.2],[1993.4,-1.45],[1994.4,-2.2],[1995.3,-1.7],[1996.2,-0.75],[1997.2,0],[1998.1,-1.2],[1999.4,-2.2],[2000.5,1.7],[2001.3,0.9],[2002.4,0.25],[2003.7,0.95],[2004.6,-0.75],[2005.6,0.75],[2006.5,0.5],[2007.4,1.05],[2008.3,1.45],[2009.3,0.9],[2010.2,1.7],[2011.1,2.2],[2012,2.45],[2013,1.55],[2013.9,2.05],[2014.9,1.95]];
const Ebro_fit = [[1965.1,0],[1974.8,-0.6],[1993.4,-0.9],[2000.9,0.25],[2014.9,1.7]];
const Ems_pts = [[1958.9,1.2],[1959.8,0.95],[1961.1,0.5],[1962.3,1.35],[1963.6,1.95],[1964.5,0.75],[1965.4,0],[1966.4,-0.5],[1967.3,-1.05],[1968.2,0.25],[1969.2,0.95],[1970.1,-0.25],[1971,1.2],[1972,0.75],[1972.9,-1.2],[1973.8,0.5],[1974.8,1.45],[1975.7,1.05],[1976.6,1.7],[1977.6,0.6],[1978.5,1.2],[1979.4,0.95],[1980.4,1.45],[1981.3,0.75],[1982.2,0.25],[1983.2,1.2],[1983.5,-1.45],[1984.7,0],[1985.4,-0.5],[1986.5,-2.7],[1987.8,-0.75],[1988.8,0],[1989.7,-1.05],[1990.6,0],[1990.6,-1.7],[1991.6,-2.7],[1992.5,-1.45],[1993.4,-1.95],[1994.4,-2.45],[1995.3,-0.75],[1996.2,-1.85],[1997.2,-2.45],[1998.1,-2.9],[1999,-2.7],[2000,-2.45],[2000.9,-2.55]];
const Ems_fit = [[1958.9,0.75],[1973.8,0.6],[1981.3,0.1],[1992.5,-1],[2000.9,-2.5]];

// lookup table built from the named arrays
const panelData = {
  AdCP:[AdCP_pts,AdCP_fit], AdTC:[AdTC_pts,AdTC_fit], Albu:[Albu_pts,Albu_fit], AlCP:[AlCP_pts,AlCP_fit],
  Bann:[Bann_pts,Bann_fit], Bres:[Bres_pts,Bres_fit], Ebro:[Ebro_pts,Ebro_fit], Ems:[Ems_pts,Ems_fit],
  Erne:[Erne_pts,Erne_fit], Feal:[Feal_pts,Feal_fit], GiCP:[GiCP_pts,GiCP_fit], GiSc:[GiSc_pts,GiSc_fit],
  GiTC:[GiTC_pts,GiTC_fit], Imsa:[Imsa_pts,Imsa_fit], Inag:[Inag_pts,Inag_fit], Katw:[Katw_pts,Katw_fit],
  Klit:[Klit_pts,Klit_fit], Lauw:[Lauw_pts,Lauw_fit], Loi:[Loi_pts,Loi_fit], Maig:[Maig_pts,Maig_fit],
  MiPo:[MiPo_pts,MiPo_fit], MiSp:[MiSp_pts,MiSp_fit], Nalo:[Nalo_pts,Nalo_fit], Nors:[Nors_pts,Nors_fit],
  RhDO:[RhDO_pts,RhDO_fit], RhIj:[RhIj_pts,RhIj_fit], Ring:[Ring_pts,Ring_fit], SeHM:[SeHM_pts,SeHM_fit],
  SevN:[SevN_pts,SevN_fit], ShaA:[ShaA_pts,ShaA_fit], Sle:[Sle_pts,Sle_fit], Stel:[Stel_pts,Stel_fit],
  Tibe:[Tibe_pts,Tibe_fit], Vida:[Vida_pts,Vida_fit], Vil:[Vil_pts,Vil_fit], Visk:[Visk_pts,Visk_fit],
  YFS1:[YFS1_pts,YFS1_fit], YFS2:[YFS2_pts,YFS2_fit], Yser:[Yser_pts,Yser_fit]
};

const FONT = '"Liberation Sans", Arial, Helvetica, sans-serif';
const L0 = 67, CW = 111.66, T0 = 37, RH = 78.2, SH = 21, PH = 57.2;
const NCOL = 8, NROW = 5;
const tickLS = {color:'#000', width:1};
const labStyle = {color:'#000', fontSize:12.5, fontFamily:FONT, formatter:function(v){return String(v);}};

const grid = [], xAxis = [], yAxis = [], series = [], graphic = [];

function xAx(g, pos, showTick, showLab, off, margin){
  return {gridIndex:g, type:'value', min:xRange[0], max:xRange[1], position:pos, offset:off,
    axisLine:{show:false}, splitLine:{show:false},
    axisTick:{show:showTick, inside:false, length:7, customValues:xTicks, lineStyle:tickLS},
    axisLabel:Object.assign({show:showLab, customValues:xLabels, margin:margin}, labStyle)};
}
function yAx(g, pos, showTick, showLab){
  return {gridIndex:g, type:'value', min:yRange[0], max:yRange[1], position:pos,
    axisLine:{show:false}, splitLine:{show:false},
    axisTick:{show:showTick, inside:false, length:7, customValues:yTicks, lineStyle:tickLS},
    axisLabel:Object.assign({show:showLab, customValues:yLabels, margin:15}, labStyle)};
}

sites.forEach((s, i) => {
  const col = i % NCOL, row = NROW - 1 - Math.floor(i / NCOL);
  const left = L0 + col * CW, stripTop = T0 + row * RH, top = stripTop + SH;
  grid.push({left:left, top:top, width:CW, height:PH, show:true, borderColor:'#000', borderWidth:1, backgroundColor:'transparent'});
  const g = grid.length - 1;
  const xi = xAxis.length;
  xAxis.push(xAx(g, 'bottom', row === NROW - 1, row === NROW - 1 && col % 2 === 0, 0, 16));
  if (row === 0) xAxis.push(xAx(g, 'top', true, col % 2 === 1, SH, 12));
  const yi = yAxis.length;
  yAxis.push(yAx(g, 'left', col === 0, col === 0 && row % 2 === 0));
  const isRightEdge = (col === NCOL - 1) || (i === sites.length - 1);
  if (isRightEdge) yAxis.push(yAx(g, 'right', true, row % 2 === 1));

  const d = panelData[s];
  series.push({type:'scatter', xAxisIndex:xi, yAxisIndex:yi, data:d[0], symbol:'circle', symbolSize:7,
    itemStyle:{color:'rgba(0,0,0,0)', borderColor:'#1a88ff', borderWidth:1.1, opacity:1}, z:3,
    markLine:{silent:true, symbol:['none','none'], label:{show:false}, animation:false,
      lineStyle:{color:'#3a3a3a', width:1.1, type:'solid'}, data:[{yAxis:0}]}});
  series.push({type:'line', xAxisIndex:xi, yAxisIndex:yi, data:d[1], showSymbol:false, symbol:'none',
    smooth:0.35, smoothMonotone:'x', lineStyle:{color:'#ff0000', width:1}, z:4});

  graphic.push({type:'rect', shape:{x:left, y:stripTop, width:CW, height:SH},
    style:{fill:'#ffe5cc', stroke:'#000', lineWidth:1}, z:10});
  graphic.push({type:'text', x:left + CW / 2, y:stripTop + SH / 2 + 0.5,
    style:{text:s, fill:'#000', font:'16.5px ' + FONT, textAlign:'center', textVerticalAlign:'middle', align:'center', verticalAlign:'middle'}, z:11});
});

graphic.push({type:'text', x:16.5, y:244, rotation:Math.PI / 2,
  style:{text:yTitle, fill:'#000', font:'17px ' + FONT, textAlign:'center', textVerticalAlign:'middle', align:'center', verticalAlign:'middle'}});
graphic.push({type:'text', x:513.5, y:479,
  style:{text:xTitle, fill:'#000', font:'17px ' + FONT, textAlign:'center', textVerticalAlign:'middle', align:'center', verticalAlign:'middle'}});

const chart = echarts.init(document.getElementById('c'), null, {renderer:'canvas'});
chart.setOption({animation:false, backgroundColor:'#fff', grid:grid, xAxis:xAxis, yAxis:yAxis, series:series, graphic:graphic});
</script></body></html>
